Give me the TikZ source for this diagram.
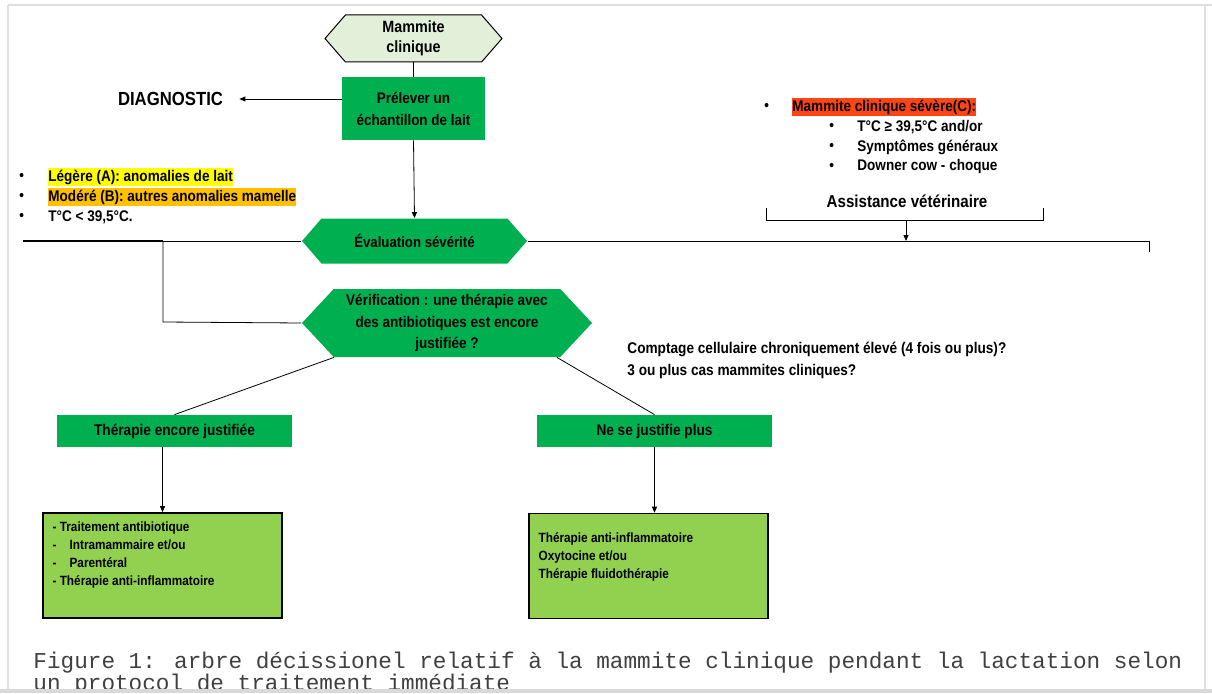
\documentclass[tikz,border=0pt]{standalone}
\usepackage{fontspec}
\setmainfont{Liberation Sans}[FakeStretch=0.88]
\newfontfamily\capfont{Liberation Mono}
\usetikzlibrary{positioning,calc,shapes.symbols,arrows.meta}

\definecolor{boxgreen}{HTML}{00B050}
\definecolor{limegreen}{HTML}{92D050}
\definecolor{palegreen}{HTML}{E2F0D9}
\definecolor{hlyellow}{HTML}{FFFF00}
\definecolor{hlorange}{HTML}{FFC000}
\definecolor{hlred}{HTML}{FF4514}
\newcommand\fsz[2]{\fontsize{#1}{#2}\selectfont}

\tikzset{
  hexa/.style={shape=signal,signal to=east and west,signal pointer angle=96,
    fill=boxgreen,inner sep=0pt,align=center,font=\bfseries\fsz{15}{22}},
  greenbox/.style={rectangle,fill=boxgreen,inner sep=0pt,align=center,
    font=\bfseries\fsz{15.5}{20}},
  limebox/.style={rectangle,fill=limegreen,draw=black,line width=1.6pt,inner sep=0pt},
  listtext/.style={anchor=north west,inner sep=0pt,align=left,font=\bfseries\fsz{13.4}{18}},
  item/.style={anchor=west,inner xsep=0pt,inner ysep=2pt,font=\bfseries\fsz{15.4}{20}},
  bullet/.style={anchor=west,inner sep=0pt,font=\bfseries\fsz{15}{20}},
}

\begin{document}
\begin{tikzpicture}[x=1pt,y=-1pt,>={Triangle[length=6pt,width=5pt]},line width=0.8pt]
  \useasboundingbox (0,0) rectangle (1212,693);
  \fill[white] (0,0) rectangle (1212,693);
  % frame of the screenshot
  \draw[gray!25,line width=2.5pt] (8,5) -- (1212,5);
  \draw[gray!25,line width=2.5pt] (8,5) -- (8,693);
  \draw[gray!25,line width=2.5pt] (1205,5) -- (1205,693);

  % top of the tree
  \node[hexa,draw=black,fill=palegreen,line width=1pt,signal pointer angle=98,
    minimum width=177,minimum height=47,font=\bfseries\fsz{16.3}{20}]
    (mammite) at (413.5,38.5) {Mammite\\clinique};
  \node[greenbox,minimum width=143,minimum height=63,font=\bfseries\fsz{15.3}{22}]
    (prel) at (413.5,108.5) {Prélever un\\échantillon de lait};
  \node[inner xsep=16pt,font=\bfseries\fsz{19}{24}] (diag) at (170.5,99) {DIAGNOSTIC};
  \node[hexa,signal pointer angle=98,minimum width=225,minimum height=45]
    (eval) at (414.5,241) {Évaluation sévérité};
  \node[hexa,signal pointer angle=94,minimum width=290,minimum height=68,
    font=\bfseries\fsz{15.4}{21.5}]
    (verif) at (447,323) {Vérification : une thérapie avec\\des antibiotiques est encore\\justifiée ?};

  \draw (mammite.south) -- (prel.north);
  \draw[->] (diag.east -| prel.west) -- (diag.east);
  \draw[->] (prel.south) -- (eval.north);

  % left: mild and moderate cases
  \node[bullet] (b1) at (19,177) {•};
  \node[bullet] (b2) at (19,197) {•};
  \node[bullet] (b3) at (19,217) {•};
  \node[item,fill=hlyellow] (legere) at (48,177) {Légère (A): anomalies de lait};
  \node[item,fill=hlorange] (modere) at (48,197) {Modéré (B): autres anomalies mamelle};
  \node[item] (tlow) at (48,217) {T°C < 39,5°C.};

  \coordinate (lEnd) at (23,241);
  \coordinate (lKnee) at (163,241);
  \coordinate (lDown) at (163,322);
  \draw[line width=1.6pt] (lEnd) -- (lKnee);
  \draw (lKnee) -- (eval.west);
  \draw (lKnee) -- (lDown) -- (verif.west);

  % right: severe cases
  \node[bullet] (b4) at (764,107) {•};
  \node[item,fill=hlred] (severe) at (792,107) {Mammite clinique sévère(C):};
  \node[bullet] (b5) at (829,127) {•};
  \node[bullet] (b6) at (829,147) {•};
  \node[bullet] (b7) at (829,167) {•};
  \node[item] (thigh) at (857,127) {T°C ≥ 39,5°C and/or};
  \node[item] (sympt) at (857,147) {Symptômes généraux};
  \node[item] (downer) at (857,167) {Downer cow - choque};
  \node[font=\bfseries\fsz{17.2}{22}] (assist) at (907,201) {Assistance vétérinaire};

  \coordinate (brL) at (766,208);
  \coordinate (brR) at (1043,208);
  \coordinate (brM) at (906,220);
  \coordinate (brT) at (906,241);
  \coordinate (rEnd) at (1149,241);
  \coordinate (rTick) at (1149,252);
  \draw (brL) -- ++(0,12) -| (brR);
  \draw[->] (brM) -- (brT);
  \draw (eval.east) -- (rEnd) -- (rTick);

  \node[anchor=west,inner sep=0pt,align=left,font=\bfseries\fsz{15.5}{22}] (comptage) at (627,360)
    {Comptage cellulaire chroniquement élevé (4 fois ou plus)?\\3 ou plus cas mammites cliniques?};

  % branches
  \node[greenbox,minimum width=235,minimum height=32] (ther) at (174.5,431) {Thérapie encore justifiée};
  \node[greenbox,minimum width=235,minimum height=32] (nejust) at (654.5,431) {Ne se justifie plus};
  \draw ($(verif.south)+(-113,0)$) -- (ther.north);
  \draw ($(verif.south)+(110,0)$) -- (nejust.north);

  \node[limebox,minimum width=239,minimum height=105] (trait) at (162.5,565.5) {};
  \node[limebox,minimum width=239,minimum height=105] (antiinf) at (648.5,566) {};
  \draw[->] (trait.north |- ther.south) -- (trait.north);
  \draw[->] (nejust.south) -- (nejust.south |- antiinf.north);

  \node[listtext] (traittxt) at ([shift={(10,9)}]trait.north west)
    {- Traitement antibiotique\\
     \makebox[17pt][l]{-}Intramammaire et/ou\\
     \makebox[17pt][l]{-}Parentéral\\
     - Thérapie anti-inflammatoire};
  \node[listtext] (antitxt) at ([shift={(10,20)}]antiinf.north west)
    {Thérapie anti-inflammatoire\\Oxytocine et/ou\\Thérapie fluidothérapie};

  % caption
  \begin{scope}
    \clip (0,0) rectangle (1212,689);
    \node[anchor=base west,inner sep=0pt,align=left,text=black!75,font=\capfont\fsz{22.7}{22}]
      (caption) at (33,690)
      {Figure 1: arbre décissionel relatif à la mammite clinique pendant la lactation selon\\
       un protocol de traitement immédiate};
  \end{scope}
  \fill[gray!30] (0,689) rectangle (1212,693);
\end{tikzpicture}
\end{document}
